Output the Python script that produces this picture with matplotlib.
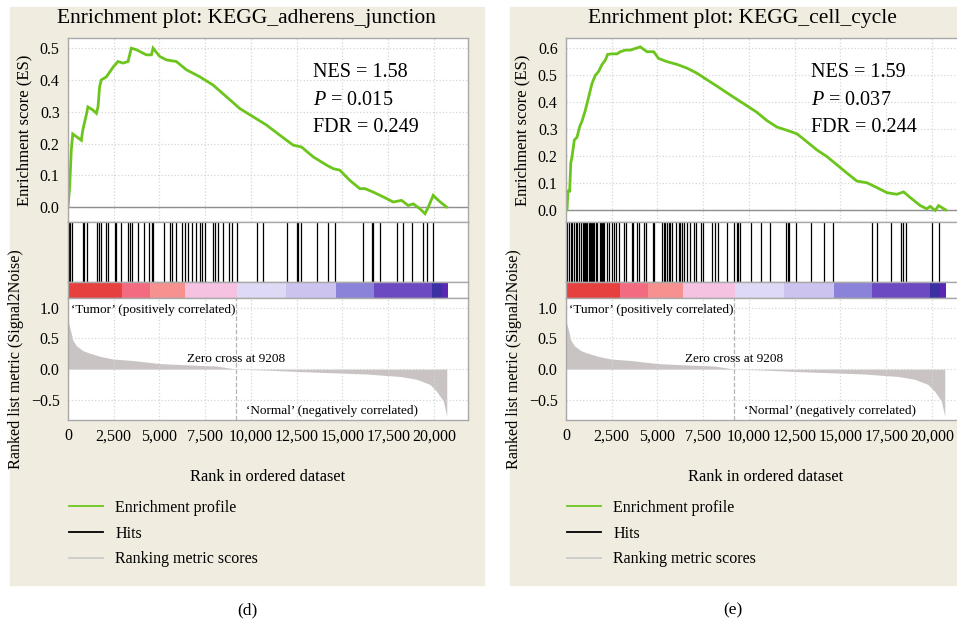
import matplotlib
matplotlib.use("Agg")
import matplotlib.pyplot as plt
from matplotlib.lines import Line2D
from matplotlib.patches import Rectangle
from matplotlib.ticker import FuncFormatter, MultipleLocator

plt.rcParams.update({
    "font.family": ["Liberation Serif", "DejaVu Serif"],
    "mathtext.fontset": "custom",
    "mathtext.rm": "Liberation Serif",
    "mathtext.it": "Liberation Serif:italic",
})

GREEN = "#6cc51c"
BEIGE = "#f0ece0"
FRAME = "#a9a9a9"
GRID = "#d6d6d6"
METRIC_GREY = "#c9c3c3"

# ── ranked list metric (same expression data for both gene sets) ──
METRIC_RANK = [0, 90, 270, 460, 820, 1190, 1730, 2460, 3560, 5010, 6470,
               8110, 9208, 10850, 12670, 14490, 16320, 18140, 19050, 19780,
               20140, 20510, 20700]
METRIC_VALUE = [0.78, 0.69, 0.47, 0.38, 0.30, 0.26, 0.21, 0.165, 0.14, 0.09,
                0.07, 0.05, 0.0, -0.016, -0.04, -0.06, -0.08, -0.12, -0.165,
                -0.25, -0.36, -0.52, -0.77]
ZERO_CROSS = 9208

# colour band under the hit strip (red = tumor side, blue = normal side)
BAND_EDGES = [0, 2940, 4500, 6390, 9240, 11910, 14630, 16710, 19870, 20430, 20750]
BAND_COLORS = ["#e6403f", "#f36b80", "#f7918f", "#f5c2e2", "#dedaf6",
               "#cdc3ef", "#8b82d9", "#6c4bc2", "#3b31a3", "#5b28b3"]

# ── KEGG_adherens_junction ──
ES_RANK_D = [0, 90, 180, 260, 730, 800, 1000, 1090, 1370, 1550, 1640, 1730,
             1820, 2100, 2280, 2460, 2730, 3010, 3280, 3460, 3740, 4280, 4560,
             4650, 5010, 5380, 5920, 6470, 7200, 7930, 8660, 9390, 10120,
             10850, 11580, 12300, 12760, 13400, 14130, 14490, 14860, 15400,
             15950, 16230, 16680, 17230, 17770, 18230, 18590, 18870, 19230,
             19510, 19690, 19960, 20240, 20690]
ES_D = [0.0, 0.063, 0.18, 0.23, 0.21, 0.24, 0.29, 0.315, 0.305, 0.295, 0.315,
        0.38, 0.40, 0.41, 0.425, 0.44, 0.458, 0.453, 0.458, 0.50, 0.495, 0.479,
        0.479, 0.50, 0.474, 0.463, 0.458, 0.432, 0.41, 0.384, 0.347, 0.31,
        0.284, 0.258, 0.226, 0.195, 0.189, 0.158, 0.132, 0.121, 0.116, 0.084,
        0.058, 0.058, 0.047, 0.032, 0.016, 0.021, 0.005, 0.01, -0.005, -0.021,
        0.0, 0.037, 0.021, 0.0]
HITS_D = [60, 130, 240, 800, 900, 1030, 1600, 1700, 1800, 2100, 2180, 2560,
          2650, 2900, 3280, 3380, 3480, 3810, 4150, 4420, 4570, 4660, 5250,
          5600, 5690, 5900, 6220, 6400, 6560, 6790, 6980, 7200, 7300, 7480,
          7940, 8030, 8210, 8490, 8820, 8950, 9250, 10310, 10670, 11950, 12500,
          12560, 12730, 13590, 14220, 14600, 16100, 16600, 16660, 17050, 17960,
          18330, 18820, 19420, 19640, 19970]
STATS_D = ["NES = 1.58", r"$\mathit{P}$ = 0.015", "FDR = 0.249"]

# ── KEGG_cell_cycle ──
ES_RANK_E = [0, 55, 110, 200, 260, 330, 455, 600, 750, 875, 1055, 1240, 1420,
             1600, 1785, 1965, 2150, 2275, 2510, 2790, 2970, 3240, 3515, 3790,
             4060, 4425, 4790, 5060, 5520, 6060, 6610, 7160, 7700, 8250, 8800,
             9340, 9890, 10430, 10980, 11530, 12070, 12620, 13170, 13710,
             14260, 14800, 15350, 15900, 16440, 16990, 17540, 18080, 18450,
             18810, 19360, 19720, 19900, 20180, 20360, 20750]
ES_E = [0.0, 0.0, 0.07, 0.07, 0.174, 0.198, 0.26, 0.27, 0.31, 0.33, 0.37,
        0.42, 0.47, 0.50, 0.515, 0.54, 0.557, 0.578, 0.58, 0.58, 0.588, 0.594,
        0.594, 0.60, 0.606, 0.588, 0.588, 0.563, 0.551, 0.541, 0.527, 0.508,
        0.484, 0.46, 0.435, 0.411, 0.387, 0.363, 0.332, 0.308, 0.296, 0.283,
        0.253, 0.223, 0.198, 0.168, 0.137, 0.107, 0.101, 0.083, 0.064, 0.058,
        0.067, 0.046, 0.016, 0.004, 0.013, -0.002, 0.016, 0.0]
HITS_E = [60, 160, 250, 340, 440, 525, 620, 710, 800, 930, 990, 1050, 1110,
          1170, 1230, 1290, 1350, 1410, 1470, 1530, 1620, 1700, 1840, 1900,
          1960, 2020, 2080, 2260, 2350, 2490, 2620, 2710, 2900, 3170, 3300,
          3590, 3660, 3900, 3990, 4260, 4350, 4750, 4810, 5260, 5340, 5430,
          5520, 5610, 5700, 5810, 5990, 6190, 6250, 6340, 6450, 6630, 6760,
          6990, 7080, 7380, 7500, 7990, 8140, 8280, 8810, 9180, 9320, 9420,
          9510, 10090, 10630, 11150, 12000, 12110, 12190, 12550, 13390, 14110,
          14610, 16700, 16970, 17760, 18300, 18390, 18580, 19980, 20410]
STATS_E = ["NES = 1.59", r"$\mathit{P}$ = 0.037", "FDR = 0.244"]

XMAX = 21860
W, H = 957, 622


def box(left, top, right, bottom):
    # pixel box -> figure fraction [l, b, w, h]
    return [left / W, 1 - bottom / H, (right - left) / W, (bottom - top) / H]


def style(ax):
    ax.set_xlim(0, XMAX)
    for sp in ax.spines.values():
        sp.set_color(FRAME)
        sp.set_linewidth(1.0)
    ax.tick_params(length=0, labelsize=11.5, pad=6)


def fmt_y(v, _):
    return f"{v:.1f}".replace("-", "\u2212")


fig = plt.figure(figsize=(W / 100, H / 100), dpi=100)
for left, width in [(10, 474), (510, 460)]:
    fig.add_artist(Rectangle((left / W, 1 - 585 / H), width / W, 578 / H,
                             transform=fig.transFigure, color=BEIGE, zorder=-5))


def draw_panel(x0, title, title_x, es_rank, es, es_ylim, hits, stats,
               caption, caption_x):
    x1 = x0 + 400
    ax_es = fig.add_axes(box(x0, 38, x1, 222))
    ax_hit = fig.add_axes(box(x0, 222, x1, 282))
    ax_band = fig.add_axes(box(x0, 282, x1, 298))
    ax_rank = fig.add_axes(box(x0, 298, x1, 420))

    # enrichment score
    style(ax_es)
    ax_es.set_ylim(*es_ylim)
    ax_es.yaxis.set_major_locator(MultipleLocator(0.1))
    ax_es.yaxis.set_major_formatter(FuncFormatter(fmt_y))
    ax_es.set_xticks(range(0, 20001, 2500))
    ax_es.set_xticklabels([])
    ax_es.grid(True, color=GRID, linestyle=":", linewidth=0.9)
    ax_es.axhline(0, color="#8f8f8f", linewidth=1.0)
    ax_es.plot(es_rank, es, color=GREEN, linewidth=2.0, solid_joinstyle="miter")
    ax_es.set_ylabel("Enrichment score (ES)", fontsize=12, labelpad=5)
    for i, s in enumerate(stats):
        ax_es.text(0.612, 0.81 - i * 0.147, s, transform=ax_es.transAxes,
                   fontsize=14.5, va="center", ha="left")

    # hits
    style(ax_hit)
    ax_hit.set_ylim(0, 1)
    ax_hit.set_xticks([])
    ax_hit.set_yticks([])
    ax_hit.vlines(hits, 0, 1, color="black", linewidth=0.9)

    # colour band
    style(ax_band)
    ax_band.set_xticks([])
    ax_band.set_yticks([])
    for a, b, c in zip(BAND_EDGES[:-1], BAND_EDGES[1:], BAND_COLORS):
        ax_band.axvspan(a, b, color=c, linewidth=0)

    # ranked list metric
    style(ax_rank)
    ax_rank.set_ylim(-0.83, 1.16)
    ax_rank.set_yticks([-0.5, 0.0, 0.5, 1.0])
    ax_rank.yaxis.set_major_formatter(FuncFormatter(fmt_y))
    ax_rank.set_xticks(range(0, 20001, 2500))
    ax_rank.xaxis.set_major_formatter(FuncFormatter(lambda v, _: f"{v:,.0f}"))
    ax_rank.grid(True, color=GRID, linestyle=":", linewidth=0.9)
    ax_rank.fill_between(METRIC_RANK, METRIC_VALUE, 0, color=METRIC_GREY,
                         linewidth=0)
    ax_rank.axvline(ZERO_CROSS, color="#b5b5b5", linestyle="--", linewidth=0.9)
    ax_rank.text(150, 0.97, "\u2018Tumor\u2019 (positively correlated)",
                 fontsize=9.5, va="center", ha="left")
    ax_rank.text(ZERO_CROSS, 0.166, f"Zero cross at {ZERO_CROSS}",
                 fontsize=9.5, va="center", ha="center")
    ax_rank.text(19150, -0.69, "\u2018Normal\u2019 (negatively correlated)",
                 fontsize=9.5, va="center", ha="right")
    ax_rank.set_xlabel("Rank in ordered dataset", fontsize=11.8, labelpad=18)
    ax_rank.set_ylabel("Ranked list metric (Signal2Noise)", fontsize=11.6,
                       labelpad=5)

    fig.text(title_x / W, 1 - 18 / H, title, fontsize=15.5, ha="center",
             va="center")
    fig.text(caption_x / W, 1 - 610 / H, caption, fontsize=12.5, ha="center",
             va="center")

    handles = [Line2D([], [], color=GREEN, linewidth=1.3),
               Line2D([], [], color="black", linewidth=1.3),
               Line2D([], [], color="#cbcbcb", linewidth=1.3)]
    ax_rank.legend(handles, ["Enrichment profile", "Hits",
                             "Ranking metric scores"],
                   loc="upper left", bbox_to_anchor=((x0 + 1) / W, 1 - 500 / H),
                   bbox_transform=fig.transFigure, frameon=False, fontsize=11.5,
                   handlelength=2.1, handletextpad=0.8, labelspacing=0.6,
                   borderpad=0, borderaxespad=0)


draw_panel(68, "Enrichment plot: KEGG_adherens_junction", 246, ES_RANK_D, ES_D,
           (-0.047, 0.532), HITS_D, STATS_D, "(d)", 247)
draw_panel(566, "Enrichment plot: KEGG_cell_cycle", 742, ES_RANK_E, ES_E,
           (-0.045, 0.639), HITS_E, STATS_E, "(e)", 733)

fig.savefig("out.png", dpi=100)
